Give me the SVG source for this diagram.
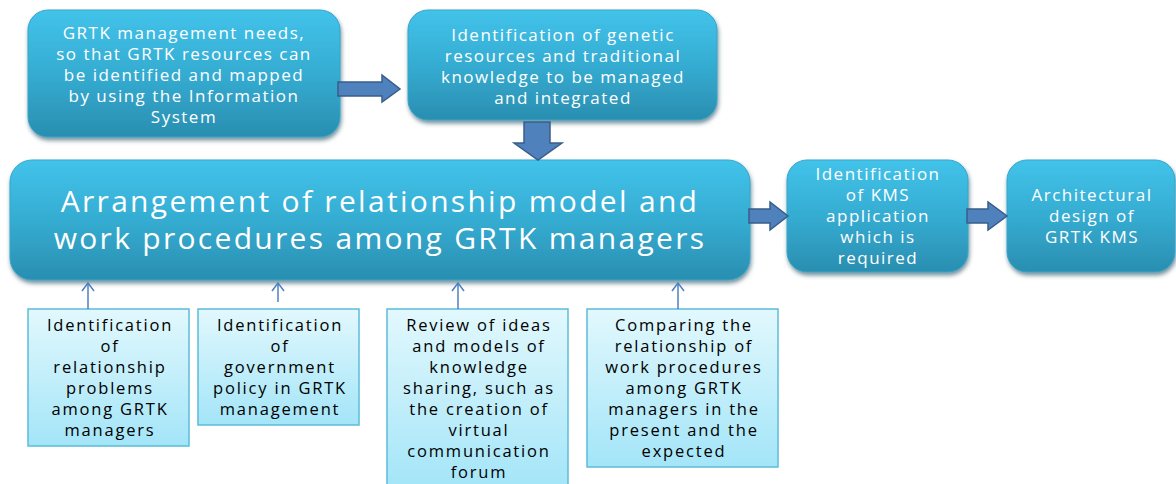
<svg xmlns="http://www.w3.org/2000/svg" width="1176" height="484" viewBox="0 0 1176 484">
<defs>
<linearGradient id="gBlue" x1="0" y1="0" x2="0" y2="1">
<stop offset="0" stop-color="#42c3ea"/>
<stop offset="0.5" stop-color="#35acd2"/>
<stop offset="1" stop-color="#2a8eb0"/>
</linearGradient>
<linearGradient id="gLight" x1="0" y1="0" x2="0" y2="1">
<stop offset="0" stop-color="#e2f8fd"/>
<stop offset="1" stop-color="#a3e5f8"/>
</linearGradient>
<filter id="sh" x="-10%" y="-10%" width="120%" height="130%">
<feDropShadow dx="1" dy="3" stdDeviation="2" flood-color="#1a4a5a" flood-opacity="0.6"/>
</filter>
<marker id="ah" viewBox="-10 -7 12 14" refX="0" refY="0" markerWidth="12" markerHeight="14" markerUnits="userSpaceOnUse" orient="auto">
<path d="M-8,-6 L0,0 L-8,6" fill="none" stroke="#4f81bd" stroke-width="1.5"/>
</marker>
</defs>
<style>
.bb{fill:url(#gBlue);stroke:#36a5c9;stroke-width:1;filter:url(#sh)}
.lb{fill:url(#gLight);stroke:#5cbcd9;stroke-width:1.5}
.wt{font-family:"Open Sans","Liberation Sans",sans-serif;fill:#ffffff;text-anchor:middle;font-size:17px;letter-spacing:1.5px}
.big{font-size:30px;letter-spacing:2.3px}
.bt{font-family:"Open Sans","Liberation Sans",sans-serif;fill:#000000;text-anchor:middle;font-size:16.5px;letter-spacing:1.8px}
.fat{fill:#4f81bd;stroke:#385d8a;stroke-width:1.5}
.thin{stroke:#4f81bd;stroke-width:1.5;fill:none}
</style>
<g id="node-needs">
<rect class="bb" x="28" y="10" width="312" height="127" rx="20"/>
<text class="wt" x="184" y="39">GRTK management needs,</text>
<text class="wt" x="184" y="60">so that GRTK resources can</text>
<text class="wt" x="184" y="81">be identified and mapped</text>
<text class="wt" x="184" y="102">by using the Information</text>
<text class="wt" x="184" y="123">System</text>
</g>
<g id="node-identification">
<rect class="bb" x="408" y="10" width="309" height="110" rx="20"/>
<text class="wt" x="563" y="41">Identification of genetic</text>
<text class="wt" x="563" y="62">resources and traditional</text>
<text class="wt" x="563" y="83">knowledge to be managed</text>
<text class="wt" x="563" y="104">and integrated</text>
</g>
<g id="node-arrangement">
<rect class="bb" x="10" y="160" width="740" height="120" rx="22"/>
<text class="wt big" x="380" y="212">Arrangement of relationship model and</text>
<text class="wt big" x="380" y="249">work procedures among GRTK managers</text>
</g>
<g id="node-kms">
<rect class="bb" x="787" y="160" width="181" height="112" rx="20"/>
<text class="wt" x="878" y="180">Identification</text>
<text class="wt" x="878" y="201">of KMS</text>
<text class="wt" x="878" y="222">application</text>
<text class="wt" x="878" y="243">which is</text>
<text class="wt" x="878" y="264">required</text>
</g>
<g id="node-architecture">
<rect class="bb" x="1007" y="160" width="168" height="112" rx="20"/>
<text class="wt" x="1092" y="201">Architectural</text>
<text class="wt" x="1092" y="222">design of</text>
<text class="wt" x="1092" y="243">GRTK KMS</text>
</g>
<g id="node-problems">
<rect class="lb" x="28" y="309" width="161" height="137"/>
<text class="bt" x="110" y="331">Identification</text>
<text class="bt" x="110" y="352">of</text>
<text class="bt" x="110" y="373">relationship</text>
<text class="bt" x="110" y="394">problems</text>
<text class="bt" x="110" y="415">among GRTK</text>
<text class="bt" x="110" y="436">managers</text>
</g>
<g id="node-policy">
<rect class="lb" x="198" y="309" width="161" height="116"/>
<text class="bt" x="280" y="331">Identification</text>
<text class="bt" x="280" y="352">of</text>
<text class="bt" x="280" y="373">government</text>
<text class="bt" x="280" y="394">policy in GRTK</text>
<text class="bt" x="280" y="415">management</text>
</g>
<g id="node-review">
<rect class="lb" x="387" y="309" width="181" height="180"/>
<text class="bt" x="479" y="331">Review of ideas</text>
<text class="bt" x="479" y="352">and models of</text>
<text class="bt" x="479" y="373">knowledge</text>
<text class="bt" x="479" y="394">sharing, such as</text>
<text class="bt" x="479" y="415">the creation of</text>
<text class="bt" x="479" y="436">virtual</text>
<text class="bt" x="479" y="457">communication</text>
<text class="bt" x="479" y="478">forum</text>
</g>
<g id="node-comparing">
<rect class="lb" x="587" y="309" width="191" height="158"/>
<text class="bt" x="684" y="331">Comparing the</text>
<text class="bt" x="684" y="352">relationship of</text>
<text class="bt" x="684" y="373">work procedures</text>
<text class="bt" x="684" y="394">among GRTK</text>
<text class="bt" x="684" y="415">managers in the</text>
<text class="bt" x="684" y="436">present and the</text>
<text class="bt" x="684" y="457">expected</text>
</g>
<g id="connectors">
<path class="fat" d="M338,82 L382,82 L382,75 L400,89 L382,102 L382,96 L338,96 Z"/>
<path class="fat" d="M524,122 L550,122 L550,143 L562,143 L538,160 L514,143 L524,143 Z"/>
<path class="fat" d="M749,209 L770,209 L770,202 L788,216 L770,230 L770,223 L749,223 Z"/>
<path class="fat" d="M967,209 L988,209 L988,202 L1007,216 L988,230 L988,223 L967,223 Z"/>
<line class="thin" x1="88" y1="309" x2="88" y2="283" marker-end="url(#ah)"/>
<line class="thin" x1="278" y1="302" x2="278" y2="283" marker-end="url(#ah)"/>
<line class="thin" x1="458" y1="309" x2="458" y2="283" marker-end="url(#ah)"/>
<line class="thin" x1="678" y1="309" x2="678" y2="283" marker-end="url(#ah)"/>
</g>
</svg>
